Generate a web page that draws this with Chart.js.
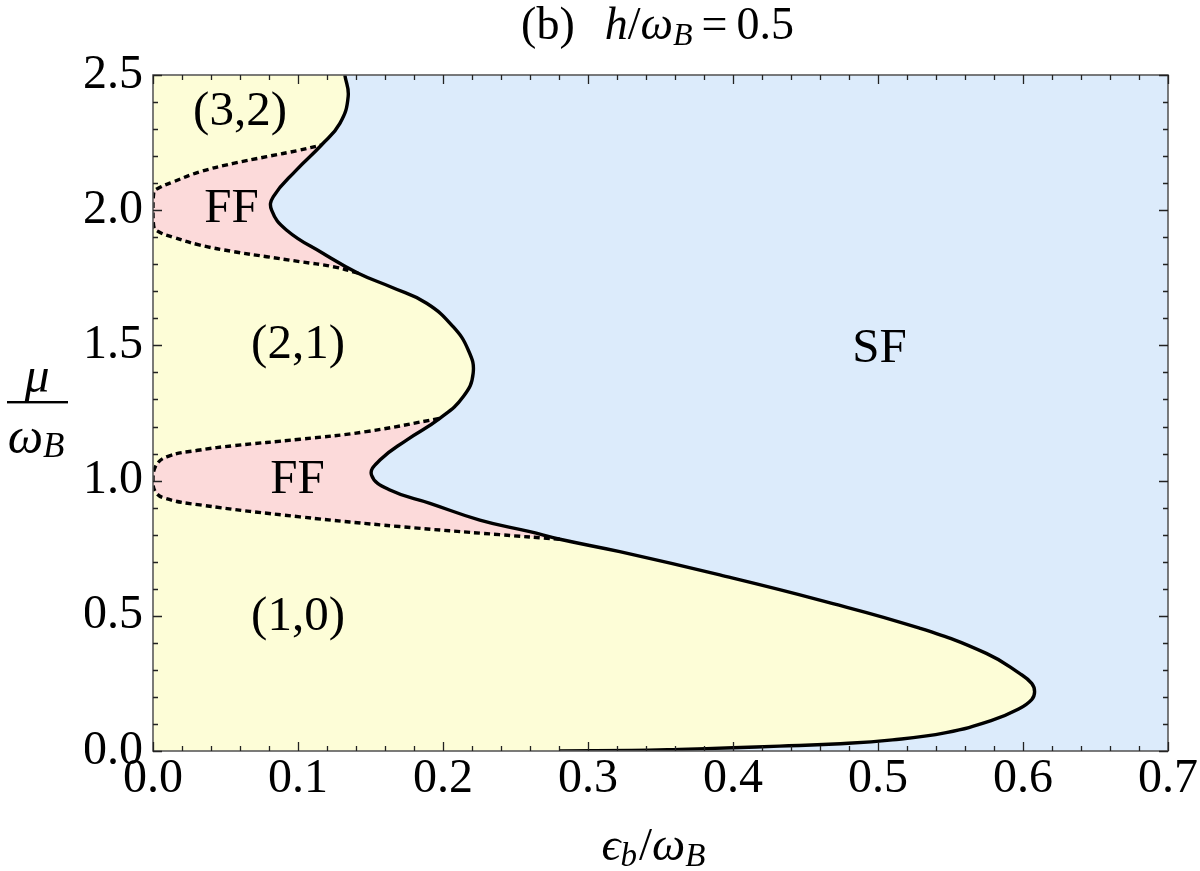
<!DOCTYPE html>
<html><head><meta charset="utf-8">
<script src="https://cdn.jsdelivr.net/npm/chart.js@4.4.1/dist/chart.umd.min.js"></script>
<style>html,body{margin:0;padding:0;background:#fff}canvas{display:block}</style>
</head><body>
<canvas id="c" width="1200" height="871"></canvas>
<script>
// ---- data ----
// solid SF boundary, epsilon_b/omega_B as a function of mu/omega_B
const boundaryEps = [0.2801, 0.33, 0.363, 0.40, 0.432, 0.47, 0.51, 0.547, 0.578, 0.597, 0.606, 0.608, 0.606, 0.5976, 0.5747, 0.5287, 0.4598, 0.3909, 0.3219, 0.2806, 0.2599, 0.2254, 0.191, 0.1634, 0.1507, 0.1565, 0.1749, 0.1978, 0.2139, 0.2208, 0.2174, 0.207, 0.1887, 0.165, 0.1415, 0.1174, 0.092, 0.0818, 0.083, 0.099, 0.1162, 0.1289, 0.1346, 0.1323];
const boundaryMu  = [0.0,    0.002, 0.006, 0.012, 0.018, 0.026, 0.041, 0.068, 0.112, 0.155, 0.19, 0.219, 0.25, 0.287, 0.361, 0.454, 0.558, 0.651, 0.737, 0.783, 0.811, 0.854, 0.916, 0.965, 1.021, 1.076, 1.15, 1.23, 1.31, 1.397, 1.483, 1.569, 1.656, 1.714, 1.767, 1.84, 1.927, 2.0, 2.05, 2.149, 2.241, 2.321, 2.42, 2.5];
// dashed FF boundary around mu = 1
const ffLowerEps = [0.2806, 0.239, 0.17, 0.1013, 0.0324, 0.008, 0.0015, 0.0, 0.0015, 0.0094, 0.0324, 0.0554, 0.1013, 0.147, 0.1978];
const ffLowerMu  = [0.783,  0.80,  0.83, 0.866,  0.91,   0.935, 0.96,   1.0, 1.05,   1.088,  1.113,  1.129,  1.153,  1.181, 1.23];
// dashed FF boundary around mu = 2
const ffUpperEps = [0.1415, 0.1243, 0.101, 0.0784, 0.0554, 0.0324, 0.014, 0.0036, 0.0005, 0.0, 0.0005, 0.0036, 0.014, 0.0324, 0.0554, 0.0784, 0.101, 0.1162];
const ffUpperMu  = [1.767,  1.791,  1.81,  1.828,  1.847,  1.871,  1.90,  1.921,  1.94,   2.0, 2.065,  2.081,  2.105, 2.142,  2.173,  2.198,  2.222, 2.241];
// region labels
const regionLabels   = ['(3,2)', 'FF', '(2,1)', 'FF', '(1,0)', 'SF'];
const regionLabelEps = [0.06, 0.0542, 0.1, 0.0996, 0.1, 0.501];
const regionLabelMu  = [2.315, 1.958, 1.453, 0.953, 0.447, 1.439];
// axes
const xRange = [0, 0.7], yRange = [0, 2.5];
const xMajorStep = 0.1, xMinorStep = 0.02;
const yMajorStep = 0.5, yMinorStep = 0.1;

// ---- styles ----
const YELLOW = '#FDFDD7', BLUE = '#DCEBFB', PINK = '#FCDADA';
const SERIF = '"Liberation Serif", "DejaVu Serif", serif';

function pts(xs, ys) { return xs.map((x, i) => ({x: x, y: ys[i]})); }

const common = {pointRadius: 0, pointHoverRadius: 0, tension: 0.45};

const decorPlugin = {
  id: 'decor',
  afterDatasetsDraw(chart) {
    const ctx = chart.ctx, a = chart.chartArea;
    const xs = chart.scales.x, ys = chart.scales.y;
    ctx.save();
    // frame
    ctx.strokeStyle = '#5a5a5a';
    ctx.lineWidth = 1.6;
    ctx.strokeRect(a.left, a.top, a.right - a.left, a.bottom - a.top);
    // inward ticks
    ctx.strokeStyle = '#222';
    ctx.lineWidth = 1.3;
    ctx.beginPath();
    const nx = Math.round((xRange[1] - xRange[0]) / xMinorStep);
    for (let i = 0; i <= nx; i++) {
      const v = xRange[0] + i * xMinorStep;
      const r = v / xMajorStep;
      const major = Math.abs(r - Math.round(r)) < 1e-6;
      const len = major ? 9 : 5;
      const px = Math.round(xs.getPixelForValue(v)) + 0.5;
      ctx.moveTo(px, a.bottom); ctx.lineTo(px, a.bottom - len);
      ctx.moveTo(px, a.top); ctx.lineTo(px, a.top + len);
    }
    const ny = Math.round((yRange[1] - yRange[0]) / yMinorStep);
    for (let i = 0; i <= ny; i++) {
      const v = yRange[0] + i * yMinorStep;
      const r = v / yMajorStep;
      const major = Math.abs(r - Math.round(r)) < 1e-6;
      const len = major ? 9 : 5;
      const py = Math.round(ys.getPixelForValue(v)) + 0.5;
      ctx.moveTo(a.left, py); ctx.lineTo(a.left + len, py);
      ctx.moveTo(a.right, py); ctx.lineTo(a.right - len, py);
    }
    ctx.stroke();
    // region labels
    ctx.fillStyle = '#000';
    ctx.font = '49px ' + SERIF;
    ctx.textAlign = 'center';
    ctx.textBaseline = 'alphabetic';
    regionLabels.forEach((t, i) => {
      ctx.fillText(t, xs.getPixelForValue(regionLabelEps[i]), ys.getPixelForValue(regionLabelMu[i]));
    });
    ctx.restore();
  },
  afterDraw(chart) {
    const ctx = chart.ctx, a = chart.chartArea;
    ctx.save();
    ctx.fillStyle = '#000';
    ctx.textBaseline = 'alphabetic';
    ctx.textAlign = 'left';
    function rich(spans, cx, by) {
      let w = 0;
      spans.forEach(s => { ctx.font = s.f; s.w = ctx.measureText(s.t).width + (s.gap || 0); w += s.w; });
      let x = cx - w / 2;
      spans.forEach(s => { ctx.font = s.f; ctx.fillText(s.t, x, by + (s.dy || 0)); x += s.w; });
    }
    const cx = (a.left + a.right) / 2;
    // title
    rich([
      {t: '(b)', f: '46px ' + SERIF, gap: 30},
      {t: 'h', f: 'italic 46px ' + SERIF},
      {t: '/', f: '46px ' + SERIF},
      {t: 'ω', f: 'italic 46px ' + SERIF},
      {t: 'B', f: 'italic 32px ' + SERIF, dy: 6, gap: 9},
      {t: '=', f: '46px ' + SERIF, gap: 9},
      {t: '0.5', f: '46px ' + SERIF}
    ], cx - 3, 39);
    // x-axis title
    rich([
      {t: 'ϵ', f: 'italic 47px ' + SERIF},
      {t: 'b', f: 'italic 33px ' + SERIF, dy: 6, gap: 2},
      {t: '/', f: '47px ' + SERIF},
      {t: 'ω', f: 'italic 47px ' + SERIF},
      {t: 'B', f: 'italic 33px ' + SERIF, dy: 6}
    ], cx - 7, 860);
    // y-axis title as fraction
    ctx.font = 'italic 50px ' + SERIF;
    ctx.textAlign = 'center';
    ctx.fillText('μ', 37, 392);
    ctx.fillRect(7, 401, 61, 2.4);
    ctx.textAlign = 'left';
    rich([
      {t: 'ω', f: 'italic 50px ' + SERIF},
      {t: 'B', f: 'italic 35px ' + SERIF, dy: 4}
    ], 36, 453);
    ctx.restore();
  }
};

new Chart(document.getElementById('c'), {
  type: 'line',
  data: {
    datasets: [
      Object.assign({label: 'FF (μ≈2)', data: pts(ffUpperEps, ffUpperMu), borderColor: '#000', borderWidth: 3.4, borderDash: [6, 4], fill: 2, backgroundColor: PINK}, common),
      Object.assign({label: 'FF (μ≈1)', data: pts(ffLowerEps, ffLowerMu), borderColor: '#000', borderWidth: 3.4, borderDash: [6, 4], fill: 2, backgroundColor: PINK}, common),
      Object.assign({label: 'boundary', data: pts(boundaryEps, boundaryMu), borderColor: '#000', borderWidth: 3.4, fill: {value: 0}, backgroundColor: YELLOW}, common),
      Object.assign({label: 'SF', data: pts(boundaryEps, boundaryMu), borderColor: 'rgba(0,0,0,0)', borderWidth: 0, fill: {value: 0.7}, backgroundColor: BLUE}, common)
    ]
  },
  options: {
    indexAxis: 'y',
    responsive: false,
    animation: false,
    devicePixelRatio: 1,
    events: [],
    layout: {padding: {left: 85, right: 32, top: 75, bottom: 70}},
    plugins: {
      legend: {display: false},
      tooltip: {enabled: false},
      title: {display: false},
      filler: {drawTime: 'beforeDatasetsDraw'}
    },
    scales: {
      x: {
        type: 'linear', position: 'bottom', min: xRange[0], max: xRange[1],
        grid: {display: false, drawTicks: false},
        border: {display: false},
        ticks: {stepSize: xMajorStep, padding: 0, color: '#000', maxRotation: 0, autoSkip: false,
          font: {family: SERIF, size: 48}, callback: v => Number(v).toFixed(1)},
        afterFit: s => { s.height = 50; }
      },
      y: {
        type: 'linear', position: 'left', min: yRange[0], max: yRange[1],
        grid: {display: false, drawTicks: false},
        border: {display: false},
        ticks: {stepSize: yMajorStep, padding: 10, color: '#000', autoSkip: false,
          font: {family: SERIF, size: 48}, callback: v => Number(v).toFixed(1)},
        afterFit: s => { s.width = 68; }
      }
    }
  },
  plugins: [decorPlugin]
});
</script>
</body></html>
